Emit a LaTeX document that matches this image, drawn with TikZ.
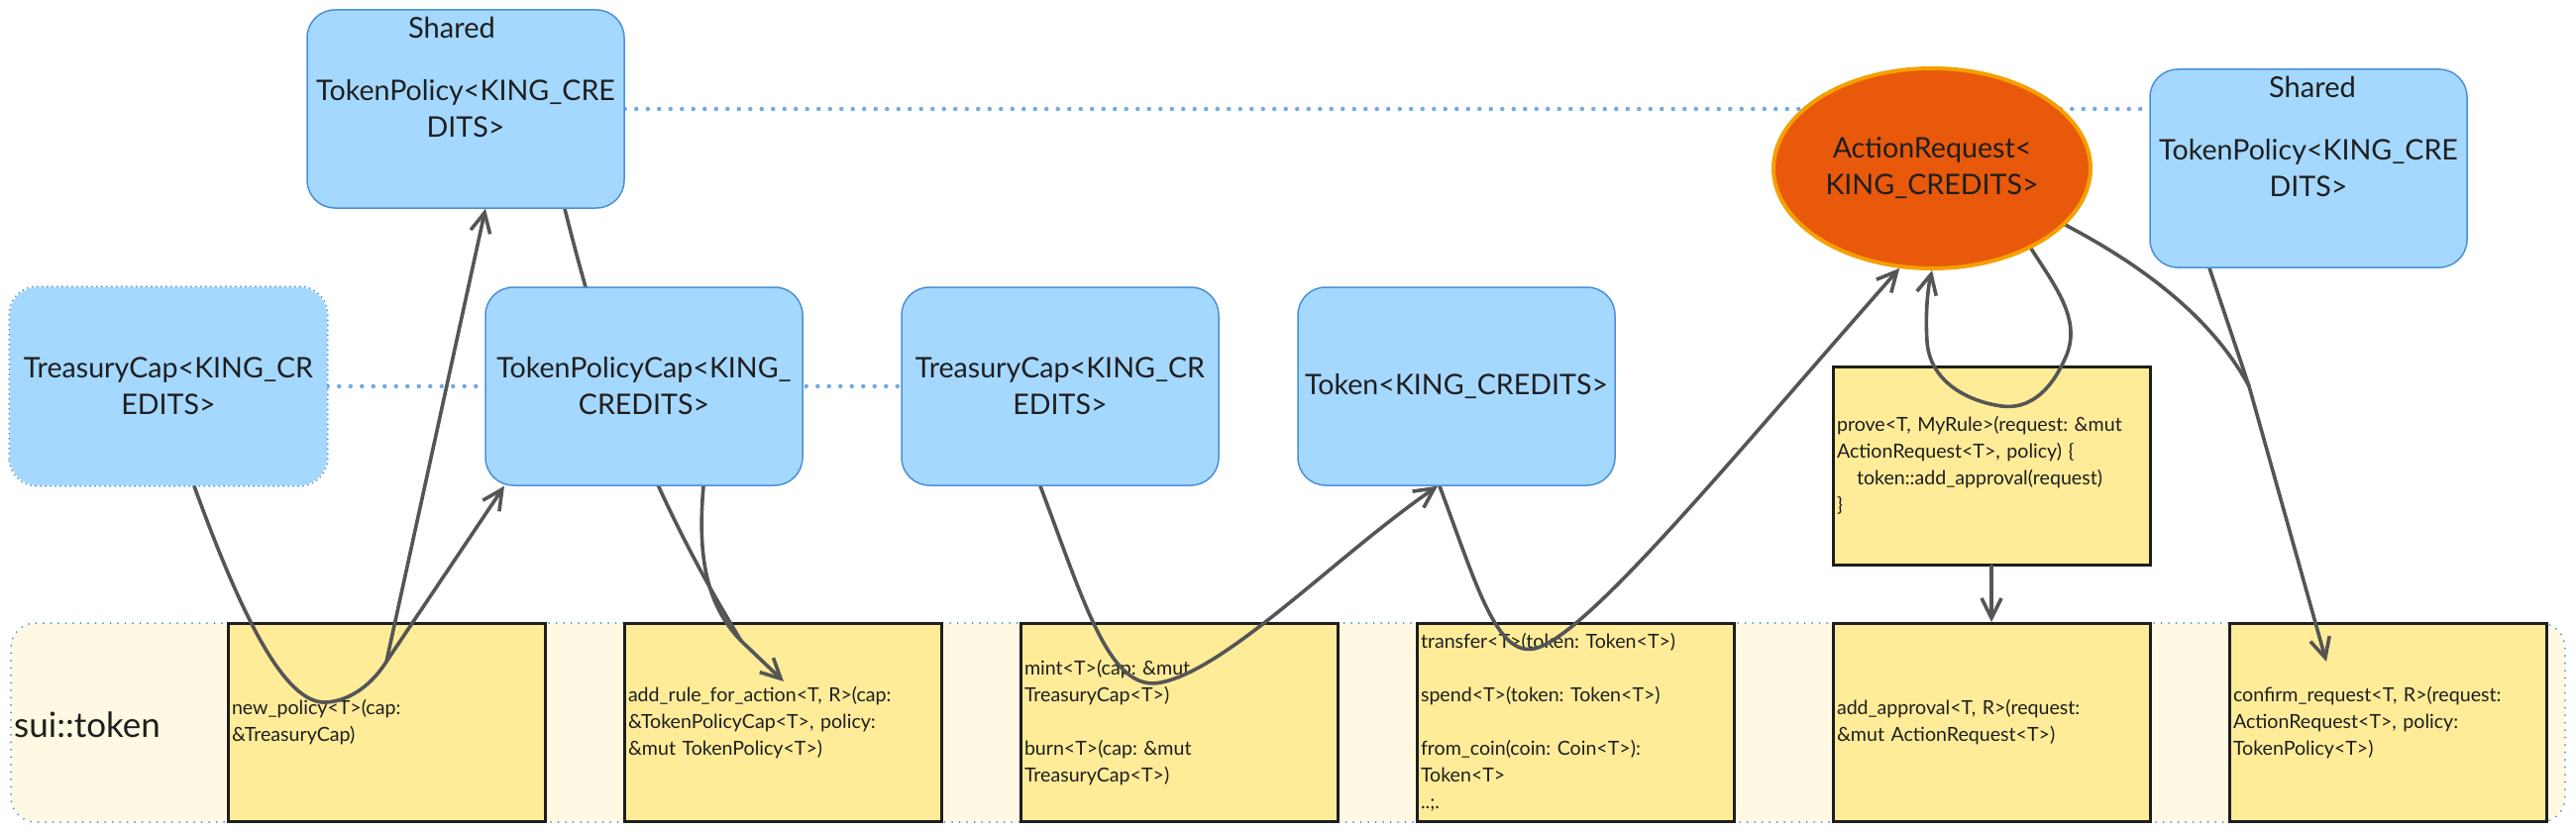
\documentclass[tikz,border=0pt]{standalone}
\usepackage{fontspec}
\setmainfont{Lato}
\frenchspacing
\usetikzlibrary{arrows.meta,shapes.geometric,calc}
\definecolor{bluefill}{HTML}{A5D8FF}
\definecolor{blueline}{HTML}{4A90D9}
\definecolor{dotblue}{HTML}{74AAE2}
\definecolor{yfill}{HTML}{FFEC99}
\definecolor{cfill}{HTML}{FFF9E3}
\definecolor{orfill}{HTML}{E8590C}
\definecolor{orline}{HTML}{F59F00}
\definecolor{conn}{HTML}{555555}
\definecolor{ink}{HTML}{1E1E1E}
\pgfdeclarelayer{bg}
\pgfdeclarelayer{mid}
\pgfsetlayers{bg,mid,main}
\begin{document}
\begin{tikzpicture}[x=1pt,y=-1pt,
 bluebox/.style={draw=blueline, line width=1.5pt, fill=bluefill, rounded corners=28pt, minimum width=320pt, minimum height=200pt, inner sep=0pt, align=center, font=\fontsize{28.6}{37}\selectfont, text=ink},
 fnbox/.style={draw=ink, line width=3pt, fill=yfill, minimum width=320pt, minimum height=200pt, inner xsep=4pt, text width=312pt, align=left, font=\fontsize{19.6}{27}\selectfont, text=ink},
 sharedlbl/.style={font=\fontsize{29}{32}\selectfont, text=ink, inner sep=0pt},
 link/.style={draw=conn, line width=3.6pt, line cap=round, line join=round},
 arrowlink/.style={link, -{Straight Barb[length=20pt,width=20pt]}},
 dotline/.style={draw=dotblue, line width=4.5pt, line cap=round, dash pattern=on 0pt off 11.5pt},
]
\useasboundingbox (0,0) rectangle (2600,840);
\begin{pgfonlayer}{bg}
\node[draw=blueline, line width=2pt, line cap=round, dash pattern=on 0pt off 7.5pt, fill=cfill, rounded corners=25pt, minimum width=2578pt, minimum height=201pt, inner sep=0pt] (pkg) at (1300,729.5) {};
\node[anchor=west, font=\fontsize{35}{40}\selectfont, text=ink, inner sep=0pt] (pkglbl) at (14,732) {sui::token};
\node[fnbox] (f1) at (390,729.5) {new\_policy<T>(cap:\\\&TreasuryCap)};
\node[fnbox] (f2) at (790,729.5) {add\_rule\_for\_action<T, R>(cap:\\\&TokenPolicyCap<T>, policy:\\\&mut TokenPolicy<T>)};
\node[fnbox] (f3) at (1190,729.5) {mint<T>(cap: \&mut\\TreasuryCap<T>)\\[27pt]burn<T>(cap: \&mut\\TreasuryCap<T>)};
\node[fnbox] (f4) at (1590,729.5) {transfer<T>(token: Token<T>)\\[27pt]spend<T>(token: Token<T>)\\[27pt]from\_coin(coin: Coin<T>):\\Token<T>\\..;.};
\node[fnbox] (f5) at (2010,729.5) {add\_approval<T, R>(request:\\\&mut ActionRequest<T>)};
\node[fnbox] (f6) at (2410,729.5) {confirm\_request<T, R>(request:\\ActionRequest<T>, policy:\\TokenPolicy<T>)};
\node[fnbox] (prove) at (2010,470) {prove<T, MyRule>(request: \&mut\\ActionRequest<T>, policy) \{\\\hspace*{20pt}token::add\_approval(request)\\\}};
\end{pgfonlayer}
% blue object boxes
\node[bluebox] (tp1) at (470,110) {TokenPolicy<KING\_CRE\\DITS>};
\node[sharedlbl] (sh1) at (456,28) {Shared};
\node[bluebox, draw=none] (tc1) at (170,390) {TreasuryCap<KING\_CR\\EDITS>};
\draw[blueline, line width=2pt, line cap=round, dash pattern=on 0pt off 5pt, rounded corners=28pt] (tc1.south west) rectangle (tc1.north east);
\node[bluebox] (tpc) at (650,390) {TokenPolicyCap<KING\_\\CREDITS>};
\node[bluebox] (tc2) at (1070,390) {TreasuryCap<KING\_CR\\EDITS>};
\node[bluebox] (tok) at (1470,390) {Token<KING\_CREDITS>};
\node[ellipse, draw=orline, line width=4pt, fill=orfill, minimum width=320pt, minimum height=202pt, inner sep=0pt, align=center, font=\fontsize{28.6}{37}\selectfont, text=ink] (ar) at (1950,170) {ActionRequest<\\KING\_CREDITS>};
\node[bluebox] (tp2) at (2330,170) {TokenPolicy<KING\_CRE\\DITS>};
\node[sharedlbl] (sh2) at (2334,88) {Shared};
\begin{pgfonlayer}{mid}
\draw[dotline] (tp1.east) -- (tp1.east -| tp2.west);
\draw[dotline] (tc1.east) -- (tc2.west);
% TreasuryCap -> new_policy -> TokenPolicy, TokenPolicyCap
\coordinate (j1) at ([yshift=-40pt]f1.north);
\draw[link] ([xshift=26pt]tc1.south) .. controls (250,640) and (292,712) .. (330,709) .. controls (355,707) and (376,690) .. (j1);
\draw[arrowlink] (j1) -- ([xshift=20pt]tp1.south);
\draw[arrowlink] (j1) -- ([xshift=-141pt]tpc.south);
% TokenPolicy, TokenPolicyCap -> add_rule_for_action
\coordinate (j2) at ([xshift=-42pt,yshift=-19pt]f2.north);
\draw[link] ([xshift=100pt]tp1.south) .. controls (600,330) and (640,470) .. (j2);
\draw[link] ([xshift=60pt]tpc.south) .. controls (704,560) and (712,610) .. (j2);
\draw[arrowlink] (j2) -- ([xshift=1pt,yshift=-60pt]f2.north);
% TreasuryCap -> mint -> Token
\draw[arrowlink] ([xshift=-20pt]tc2.south) .. controls (1095,610) and (1120,700) .. (1172,689) .. controls (1240,675) and (1350,560) .. ([xshift=-19pt]tok.south);
% Token -> transfer -> ActionRequest
\draw[arrowlink] ([xshift=-17pt]tok.south) .. controls (1490,590) and (1510,662) .. (1548,655) .. controls (1600,645) and (1750,460) .. (ar.-108);
% prove loop
\draw[arrowlink] (ar.-39) .. controls (2075,290) and (2100,322) .. (2086,358) .. controls (2072,392) and (2050,414) .. (2020,410) .. controls (1985,405) and (1948,385) .. (1945,345) .. controls (1943,315) and (1946,290) .. (ar.south);
% ActionRequest, TokenPolicy -> confirm_request
\coordinate (j3) at (2270,390);
\draw[link] (ar.-23) .. controls (2170,272) and (2235,325) .. (j3);
\draw[link] ([xshift=-100pt]tp2.south) -- (j3);
\draw[arrowlink] (j3) -- ([xshift=-62pt,yshift=-40pt]f6.north);
% prove -> add_approval
\draw[arrowlink] (prove.south) -- (f5.north);
\end{pgfonlayer}
\end{tikzpicture}
\end{document}
